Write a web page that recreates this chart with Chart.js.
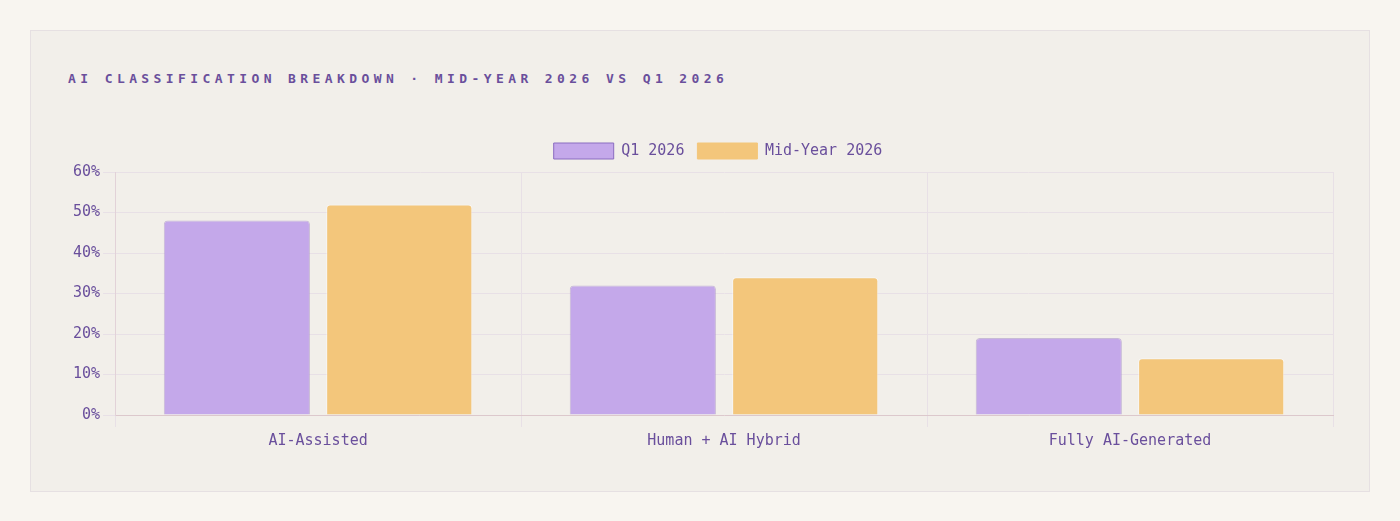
<!DOCTYPE html>
<html>
<head>
<meta charset="utf-8">
<script src="https://cdn.jsdelivr.net/npm/chart.js@4/dist/chart.umd.min.js"></script>
<style>
  html, body { margin: 0; padding: 0; background: #f8f5f0; }
  body { width: 1400px; height: 521px; position: relative; overflow: hidden; }
  .card {
    position: absolute; left: 30px; top: 30px; width: 1338px; height: 460px;
    background: #f2efea; border: 1px solid #e6e0e2;
  }
  .title {
    position: absolute; left: 37px; top: 40px;
    font-family: "DejaVu Sans Mono", monospace; font-size: 13px; font-weight: bold;
    letter-spacing: 4.4px; color: #6a4f9c;
  }
  .wrap { position: absolute; left: 19px; top: 98px; width: 1316px; height: 326px; }
</style>
</head>
<body>
<div class="card">
  <div class="title">AI CLASSIFICATION BREAKDOWN · MID-YEAR 2026 VS Q1 2026</div>
  <div class="wrap"><canvas id="myChart"></canvas></div>
</div>
<script>
var categories = ['AI-Assisted', 'Human + AI Hybrid', 'Fully AI-Generated'];
var q1Values = [48, 32, 19];
var midYearValues = [52, 34, 14];
var yTicks = [0, 10, 20, 30, 40, 50, 60];

var textColor = '#6a4f9c';
var gridColor = '#e8e0e6';
var monoFont = { family: '"DejaVu Sans Mono", monospace', size: 15 };

// a few extra pixels between the legend and the plot
var legendGap = {
    id: 'legendGap',
    beforeInit: function(c) {
        var fit = c.legend.fit;
        c.legend.fit = function() {
            fit.bind(c.legend)();
            this.height += 3;
        };
    }
};

var ctx = document.getElementById('myChart').getContext('2d');
var chart = new Chart(ctx, {
    type: 'bar',
    data: {
        labels: categories,
        datasets: [{
            label: 'Q1 2026',
            data: q1Values,
            backgroundColor: '#c4a8ea',
            borderColor: 'rgba(170,150,200,0.6)',
            borderWidth: 1,
            borderRadius: 4,
            borderSkipped: 'bottom'
        }, {
            label: 'Mid-Year 2026',
            data: midYearValues,
            backgroundColor: '#f3c67b',
            borderColor: 'rgba(255,255,255,0.5)',
            borderWidth: 1,
            borderRadius: 4,
            borderSkipped: 'bottom'
        }]
    },
    plugins: [legendGap],
    options: {
        responsive: true,
        maintainAspectRatio: false,
        animation: false,
        layout: { padding: { top: 1, right: 0, left: 20, bottom: 0 } },
        plugins: {
            legend: {
                position: 'top',
                labels: {
                    boxWidth: 60,
                    boxHeight: 16,
                    padding: 13,
                    color: textColor,
                    font: monoFont,
                    generateLabels: function(c) {
                        var strokes = ['#8a6cc0', '#f3c67b'];
                        return c.data.datasets.map(function(ds, i) {
                            return {
                                text: ds.label,
                                fillStyle: ds.backgroundColor,
                                strokeStyle: strokes[i],
                                lineWidth: 1,
                                fontColor: textColor,
                                hidden: !c.isDatasetVisible(i),
                                datasetIndex: i
                            };
                        });
                    }
                }
            },
            tooltip: { enabled: false }
        },
        scales: {
            x: {
                grid: { color: gridColor, tickLength: 12, offset: true },
                border: { color: '#dcc8cc' },
                ticks: { color: textColor, font: monoFont, padding: 5 }
            },
            y: {
                min: 0,
                max: 60,
                afterBuildTicks: function(axis) {
                    axis.ticks = yTicks.map(function(v) { return { value: v }; });
                },
                grid: { color: gridColor, tickLength: 12 },
                border: { color: '#e2d2d8' },
                ticks: {
                    color: textColor,
                    font: monoFont,
                    padding: 3,
                    callback: function(v) { return v + '%'; }
                }
            },
            spacer: {
                position: 'right',
                display: true,
                grid: { display: false },
                border: { display: false },
                ticks: { display: false },
                afterFit: function(axis) { axis.width = 33; }
            }
        }
    }
});
</script>
</body>
</html>
